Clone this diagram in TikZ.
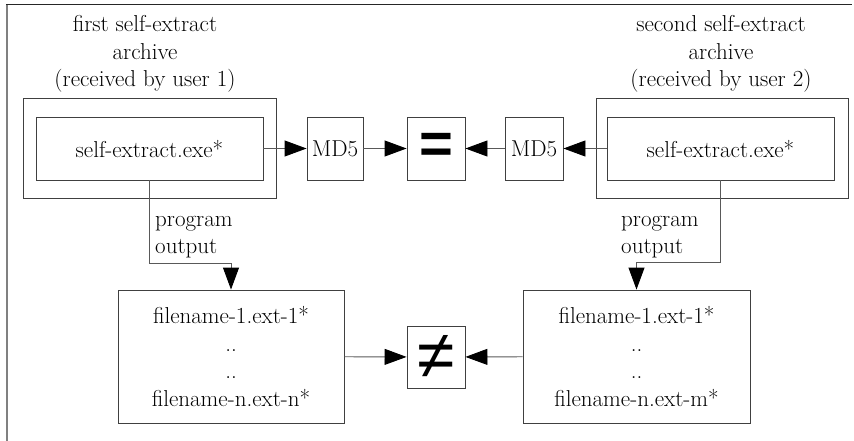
\documentclass[tikz,border=0pt]{standalone}
\usepackage{fontspec}
\newfontfamily\eqfont{Liberation Sans}
\usetikzlibrary{arrows.meta}

\begin{document}
\begin{tikzpicture}[x=1pt,y=-1pt,font=\fontsize{23}{27.5}\selectfont]
	\tikzstyle{box}=[rectangle,draw=black!75,line width=0.9pt,inner sep=0pt,align=center]
	\tikzstyle{caption}=[inner sep=0pt,align=center]
	\tikzstyle{flow}=[draw=black!65,line width=0.9pt,-{Triangle[length=22pt,width=16pt,black]}]
	\useasboundingbox (0,0) rectangle (854,441);
	% frame
	\draw[black!50,line width=2pt] (7,441) -- (7,5);
	\draw[black!85,line width=1pt] (6,5) -- (852,5);
	\begin{scope}
		% archives
		\node [caption] (lbl1) at (145,54) {first self-extract\\archive\\(received by user 1)};
		\node [caption] (lbl2) at (721,54) {second self-extract\\archive\\(received by user 2)};
		\node [box,minimum width=253,minimum height=100] (outer1) at (149.5,148) {};
		\node [box,minimum width=252,minimum height=100] (outer2) at (722,148) {};
		\node [box,minimum width=227,minimum height=63] (exe1) at (149.5,148.5) {self-extract.exe*};
		\node [box,minimum width=227,minimum height=63] (exe2) at (720.5,148.5) {self-extract.exe*};
		\node [box,minimum width=56,minimum height=63] (md51) at (335,148.5) {MD5};
		\node [box,minimum width=58,minimum height=63] (md52) at (534,148.5) {MD5};
		\node [box,minimum width=58,minimum height=63] (eq) at (436,148.5) {\eqfont\bfseries\fontsize{58}{58}\selectfont =};
		% outputs
		\node [box,minimum width=226,minimum height=133] (files1) at (231,356.5) {filename-1.ext-1*\\..\\..\\filename-n.ext-n*};
		\node [box,minimum width=227,minimum height=133] (files2) at (636.5,356.5) {filename-1.ext-1*\\..\\..\\filename-n.ext-m*};
		\node [box,minimum width=58,minimum height=62] (neq) at (436,357) {\eqfont\fontsize{68}{68}\selectfont ≠};
		\node [caption,align=left,anchor=west] (prog1) at (155,237) {program\\output};
		\node [caption,align=left,anchor=west] (prog2) at (621,237) {program\\output};
		\coordinate (bend1) at (231,263);
		\coordinate (bend2) at (636.5,262);
		% connectors
		\path[flow] (exe1) -- (md51);
		\path[flow] (md51) -- (eq);
		\path[flow] (exe2) -- (md52);
		\path[flow] (md52) -- (eq);
		\path[flow] (files1) -- (neq);
		\path[flow] (files2) -- (neq);
		\path[flow] (exe1.south) |- (bend1) -- (files1.north);
		\path[flow] (exe2.south) |- (bend2) -- (files2.north);
	\end{scope}
\end{tikzpicture}
\end{document}
